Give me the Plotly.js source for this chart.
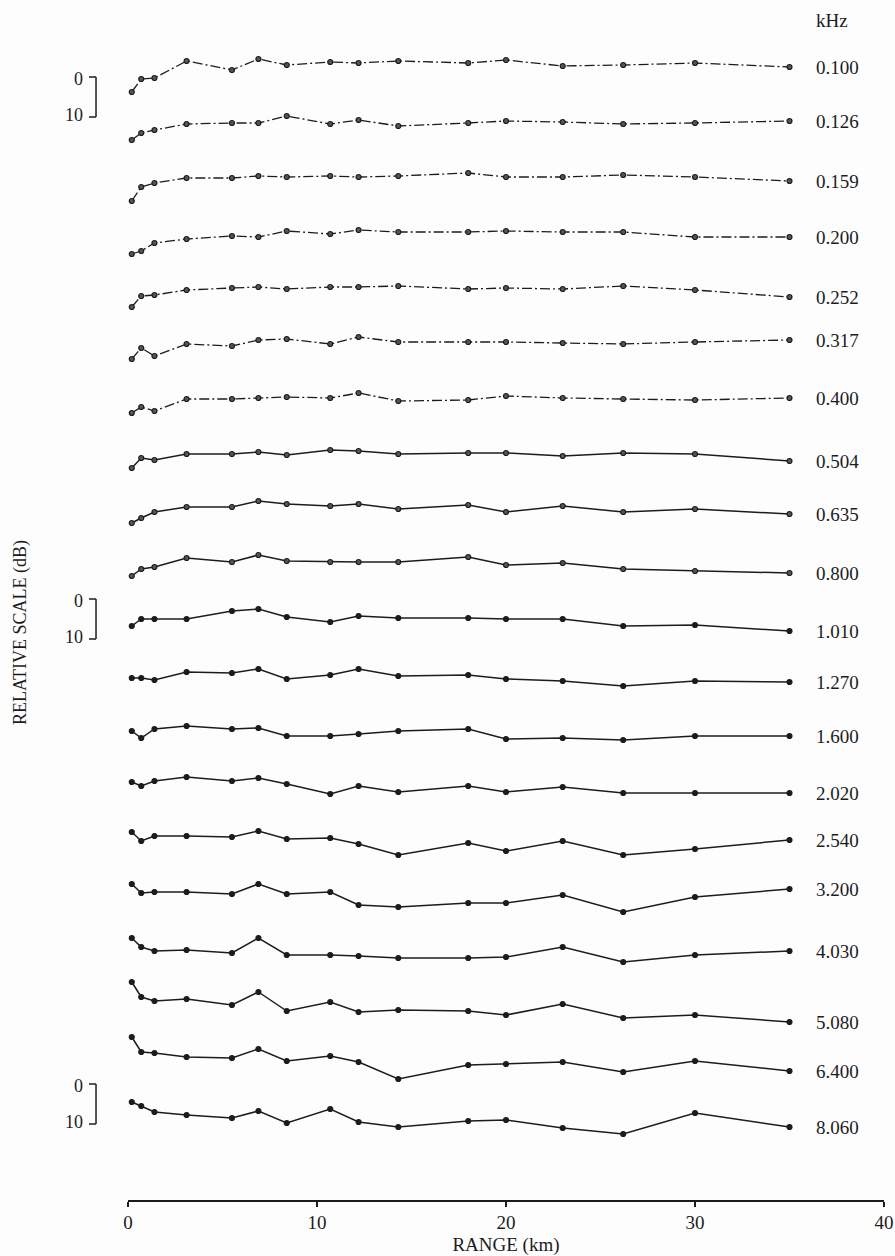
<!DOCTYPE html>
<html><head><meta charset="utf-8">
<script src="https://cdn.plot.ly/plotly-3.0.1.min.js"></script>
<style>html,body{margin:0;padding:0;background:#fdfdfd}#chart{width:895px;height:1256px}</style>
</head><body><div id="chart"></div>
<script>
// Range of each measurement (km)
const rangeKm = [0.2, 0.7, 1.4, 3.1, 5.5, 6.9, 8.4, 10.7, 12.2, 14.3, 18.0, 20.0, 23.0, 26.2, 30.0, 35.0];

// Frequency labels (kHz)
const freqLabels = ['0.100','0.126','0.159','0.200','0.252','0.317','0.400','0.504','0.635','0.800',
                    '1.010','1.270','1.600','2.020','2.540','3.200','4.030','5.080','6.400','8.060'];

// Relative level (dB, increasing downward) of each frequency versus range
const lvl_0100 = [8, 4.75, 4.5, 0.25, 2.5, -0.25, 1.25, 0.5, 0.75, 0.25, 0.75, 0, 1.5, 1.25, 0.75, 1.75];
const lvl_0126 = [6, 4.25, 3.5, 2, 1.75, 1.75, 0, 2, 1, 2.5, 1.75, 1.25, 1.5, 2, 1.75, 1.25];
const lvl_0159 = [7.25, 3.75, 2.75, 1.5, 1.5, 1, 1.25, 1, 1.25, 1, 0.25, 1.25, 1.25, 0.75, 1.25, 2.25];
const lvl_0200 = [6.5, 5.75, 3.75, 2.75, 2, 2.25, 0.75, 1.5, 0.5, 1, 1, 0.75, 1, 1, 2.25, 2.25];
const lvl_0252 = [5.75, 3, 2.75, 1.5, 1, 0.75, 1.25, 0.75, 0.75, 0.5, 1.25, 1, 1.25, 0.5, 1.5, 3.25];
const lvl_0317 = [4.75, 2, 4, 1, 1.5, 0, -0.25, 1, -0.75, 0.5, 0.5, 0.5, 0.75, 1, 0.5, 0];
const lvl_0400 = [4.25, 2.75, 3.75, 0.75, 0.75, 0.5, 0.25, 0.5, -0.75, 1.25, 1, 0, 0.5, 0.75, 1, 0.5];
const lvl_0504 = [4, 1.5, 2, 0.5, 0.5, 0, 0.75, -0.5, -0.25, 0.5, 0.25, 0.25, 1, 0.25, 0.5, 2.25];
const lvl_0635 = [3.75, 2.5, 1, -0.25, -0.25, -1.75, -1, -0.5, -1, 0.25, -0.75, 1, -0.5, 1, 0.25, 1.5];
const lvl_0800 = [3, 1.25, 0.75, -1.5, -0.5, -2.25, -0.75, -0.5, -0.5, -0.5, -1.75, 0.25, -0.25, 1.25, 1.75, 2.25];
const lvl_1010 = [1.5, -0.25, -0.25, -0.25, -2.25, -2.75, -0.75, 0.5, -1, -0.5, -0.5, -0.25, -0.25, 1.5, 1.25, 2.75];
const lvl_1270 = [0.5, 0.5, 1, -1, -0.75, -1.75, 0.75, -0.25, -1.75, 0, -0.25, 0.75, 1.25, 2.5, 1.25, 1.5];
const lvl_1600 = [-0.25, 1.5, -0.75, -1.5, -0.75, -1, 1, 1, 0.5, -0.25, -0.75, 1.75, 1.5, 2, 1, 1];
const lvl_2020 = [-1.5, -0.5, -1.75, -2.75, -1.75, -2.5, -1, 1.5, -0.5, 1, -0.5, 1, -0.25, 1.25, 1.25, 1.25];
const lvl_2540 = [-3, -0.75, -2, -2, -1.75, -3.25, -1.25, -1.5, 0, 2.75, -0.25, 1.75, -0.75, 2.75, 1.25, -1];
const lvl_3200 = [-4, -1.75, -2, -2, -1.5, -4, -1.5, -2, 1.25, 1.75, 0.75, 0.75, -1.25, 3, -0.75, -2.75];
const lvl_4030 = [-4.5, -2.25, -1.25, -1.5, -0.75, -4.5, -0.25, -0.25, 0, 0.5, 0.5, 0.25, -2.25, 1.5, -0.25, -1.25];
const lvl_5080 = [-7.5, -3.75, -2.75, -3.25, -1.75, -5, -0.25, -2.5, 0, -0.5, -0.25, 0.75, -2, 1.5, 0.75, 2.5];
const lvl_6400 = [-7.75, -4, -3.75, -2.75, -2.5, -4.75, -1.75, -3, -1.5, 2.75, -0.75, -1, -1.5, 1, -1.75, 0.75];
const lvl_8060 = [-5.5, -4.5, -3, -2.25, -1.5, -3.25, -0.25, -3.75, -0.5, 0.75, -0.75, -1, 1, 2.5, -2.75, 0.75];

const levels = [lvl_0100, lvl_0126, lvl_0159, lvl_0200, lvl_0252, lvl_0317, lvl_0400, lvl_0504, lvl_0635, lvl_0800,
                lvl_1010, lvl_1270, lvl_1600, lvl_2020, lvl_2540, lvl_3200, lvl_4030, lvl_5080, lvl_6400, lvl_8060];

// Layout constants: stacking of the curves (dB units on the stacked axis)
const ROW0 = 15, ROWSTEP = 14;
const bracketTops = [19.25, 149.75, 271];   // 0-10 dB scale brackets

const serif = 'Liberation Serif, Times New Roman, serif';
const ink = '#1c1c1c';

const traces = levels.map((lv, i) => ({
  type: 'scatter', mode: 'lines+markers',
  x: rangeKm,
  y: lv.map(v => ROW0 + i * ROWSTEP + v),
  name: freqLabels[i] + ' kHz',
  line: {color: ink, width: i < 7 ? 1.3 : 1.5, dash: i < 7 ? '10px,3px,2px,3px' : 'solid'},
  marker: {symbol: 'circle', size: 5, color: i < 10 ? '#555' : ink, line: {color: ink, width: 1.2}},
  cliponaxis: false,
  showlegend: false,
  hoverinfo: 'x+y+name'
}));

const annotations = [];
levels.forEach((lv, i) => {
  annotations.push({
    xref: 'x', yref: 'y', x: 36.3, y: ROW0 + i * ROWSTEP + lv[lv.length - 1],
    text: freqLabels[i], showarrow: false, xanchor: 'left', yanchor: 'middle',
    font: {family: serif, size: 19, color: ink}
  });
});
annotations.push({xref: 'x', yref: 'y', x: 36.3, y: 5, text: 'kHz', showarrow: false,
  xanchor: 'left', yanchor: 'middle', font: {family: serif, size: 19, color: ink}});
annotations.push({xref: 'paper', yref: 'paper', x: -0.1429, y: 0.4733, text: 'RELATIVE SCALE (dB)',
  textangle: -90, showarrow: false, xanchor: 'center', yanchor: 'middle',
  font: {family: serif, size: 18, color: ink}});

const shapes = [];
bracketTops.forEach(b => {
  shapes.push({type: 'line', xref: 'paper', yref: 'y', x0: -0.0516, x1: -0.0423, y0: b, y1: b, line: {color: ink, width: 1.5}});
  shapes.push({type: 'line', xref: 'paper', yref: 'y', x0: -0.0423, x1: -0.0423, y0: b, y1: b + 10, line: {color: ink, width: 1.5}});
  shapes.push({type: 'line', xref: 'paper', yref: 'y', x0: -0.0516, x1: -0.0423, y0: b + 10, y1: b + 10, line: {color: ink, width: 1.5}});
  annotations.push({xref: 'paper', yref: 'y', x: -0.057, y: b + 0.5, text: '0', showarrow: false,
    xanchor: 'right', yanchor: 'middle', font: {family: serif, size: 18, color: ink}});
  annotations.push({xref: 'paper', yref: 'y', x: -0.057, y: b + 9.5, text: '10', showarrow: false,
    xanchor: 'right', yanchor: 'middle', font: {family: serif, size: 18, color: ink}});
});

const layout = {
  width: 895, height: 1256,
  margin: {l: 128, r: 11, t: 0, b: 56},
  paper_bgcolor: '#fdfdfd', plot_bgcolor: '#fdfdfd',
  showlegend: false,
  xaxis: {
    range: [0, 40], tickvals: [0, 10, 20, 30, 40], ticktext: ['0', '10', '20', '30', '40'],
    showline: true, linecolor: ink, linewidth: 1.5, ticks: 'outside', ticklen: 5, tickwidth: 1.5, tickcolor: ink,
    showgrid: false, zeroline: false,
    tickfont: {family: serif, size: 19, color: ink},
    title: {text: 'RANGE (km)', standoff: 5, font: {family: serif, size: 19, color: ink}}
  },
  yaxis: {
    range: [300, 0], showline: false, showgrid: false, zeroline: false,
    showticklabels: false, ticks: ''
  },
  shapes: shapes,
  annotations: annotations
};

Plotly.newPlot('chart', traces, layout, {displayModeBar: false, staticPlot: true});
</script>
</body></html>
